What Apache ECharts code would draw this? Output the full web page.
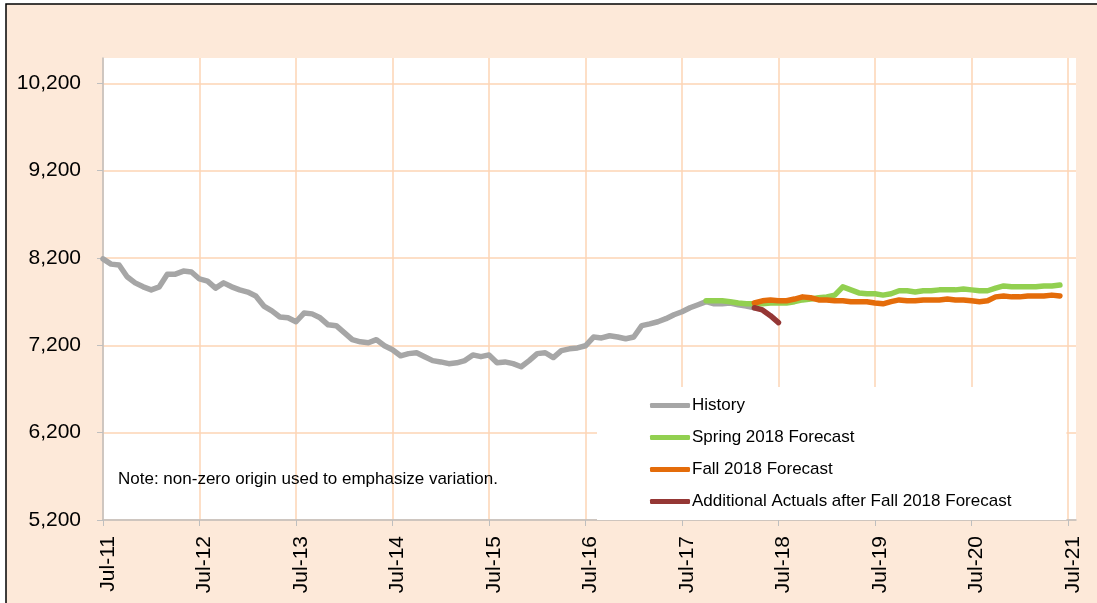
<!DOCTYPE html>
<html lang="en">
<head>
  <meta charset="UTF-8">
  <title>Enrollment forecast</title>
  <style>
    html, body { margin: 0; padding: 0; background: #fff; }
    #echart { width: 1097px; height: 603px; }
  </style>
</head>
<body>
  <div id="echart"></div>
  <script src="https://cdn.jsdelivr.net/npm/echarts@6/dist/echarts.min.js"></script>
  <script>
    // months Jul-11 .. Aug-21 (last one only so the axis runs past Jul-21)
    var monthNames = ['Jan', 'Feb', 'Mar', 'Apr', 'May', 'Jun', 'Jul', 'Aug', 'Sep', 'Oct', 'Nov', 'Dec'];
    var months = [];
    for (var i = 0; i < 122; i++) {
      var m = (6 + i) % 12;
      var y = 11 + Math.floor((6 + i) / 12);
      months.push(monthNames[m] + '-' + y);
    }

    var yTicks = [5200, 6200, 7200, 8200, 9200, 10200];

    // history, from Jul-11
    var historyVals = [
      8190, 8130, 8120, 7985, 7915, 7870, 7835, 7870, 8015, 8015, 8050, 8040,
      7960, 7935, 7855, 7915, 7870, 7835, 7810, 7765, 7650, 7595, 7525, 7515,
      7470, 7570, 7560, 7515, 7435, 7425, 7345, 7265, 7240, 7230, 7265, 7195,
      7150, 7080, 7105, 7115, 7070, 7025, 7010, 6990, 7000, 7025, 7090, 7070,
      7090, 7000, 7010, 6990, 6955, 7025, 7105, 7115, 7060, 7140, 7160, 7170,
      7195, 7295, 7285, 7310, 7295, 7275, 7295, 7425, 7445, 7470, 7505, 7550,
      7585, 7630, 7665, 7700, 7675, 7675, 7685, 7665, 7650, 7630
    ];
    var historyStart = 0;

    // spring 2018 forecast, from Oct-17
    var spring = [
      7710, 7710, 7710, 7700, 7685, 7675, 7675, 7675, 7685, 7685,
      7685, 7700, 7720, 7730, 7745, 7755, 7775, 7870, 7835, 7800,
      7790, 7790, 7775, 7790, 7825, 7825, 7810, 7825, 7825, 7835,
      7835, 7835, 7845, 7835, 7825, 7825, 7855, 7880, 7870, 7870,
      7870, 7870, 7880, 7880, 7890
    ];
    var springStart = 75;

    // fall 2018 forecast, from Apr-18
    var fall = [
      7685, 7710, 7720, 7710, 7710, 7730, 7755, 7745, 7720, 7720,
      7710, 7710, 7700, 7700, 7700, 7685, 7675, 7700, 7720, 7710,
      7710, 7720, 7720, 7720, 7730, 7720, 7720, 7710, 7700, 7710,
      7755, 7765, 7755, 7755, 7765, 7765, 7765, 7775, 7765
    ];
    var fallStart = 81;

    var additional = [7630, 7605, 7540, 7460];
    var additionalStart = 81;

    function pad(arr, start) {
      var out = [];
      for (var i = 0; i < months.length; i++) {
        var j = i - start;
        out.push(j >= 0 && j < arr.length ? arr[j] : null);
      }
      return out;
    }

    function line(name, color, arr, start) {
      return {
        name: name,
        type: 'line',
        symbol: 'none',
        lineStyle: { color: color, width: 5.5, cap: 'round', join: 'round' },
        itemStyle: { color: color },
        data: pad(arr, start)
      };
    }

    var peach = '#FDE9D9';
    var gridColor = '#FCD5B4';
    var axisGray = '#BFBFBF';
    var font = 'Liberation Sans, Arial, sans-serif';

    var option = {
      animation: false,
      backgroundColor: '#fff',
      graphic: [{
        type: 'rect',
        z: -10,
        shape: { x: 6, y: 4, width: 1200, height: 700 },
        style: { fill: peach, stroke: '#000', lineWidth: 1.5 }
      }],
      title: {
        text: 'Note: non-zero origin used to emphasize variation.',
        left: 118,
        top: 471,
        padding: 0,
        textStyle: { fontFamily: font, fontSize: 17, fontWeight: 'normal', color: '#000' }
      },
      legend: {
        orient: 'vertical',
        left: 597,
        top: 387,
        padding: [10, 55, 10, 53],
        backgroundColor: '#fff',
        icon: 'roundRect',
        itemWidth: 40,
        itemHeight: 5,
        itemGap: 15,
        textStyle: { fontFamily: font, fontSize: 17, color: '#000', padding: [0, 0, 0, -3] },
        data: ['History', 'Spring 2018 Forecast', 'Fall 2018 Forecast', 'Additional Actuals after Fall 2018 Forecast']
      },
      grid: {
        left: 103,
        right: 21,
        top: 58,
        bottom: 83,
        show: true,
        backgroundColor: '#fff',
        borderWidth: 0
      },
      xAxis: {
        type: 'category',
        boundaryGap: false,
        data: months,
        axisLine: { lineStyle: { color: axisGray, width: 1.5 } },
        axisTick: { interval: 11, length: 6, lineStyle: { color: axisGray } },
        splitLine: { show: true, interval: 11, lineStyle: { color: gridColor, width: 1.5 } },
        axisLabel: {
          interval: 11,
          rotate: 90,
          margin: 16,
          verticalAlign: 'top',
          lineHeight: 10,
          fontFamily: font,
          fontSize: 21,
          color: '#000'
        }
      },
      yAxis: {
        type: 'value',
        min: 5200,
        max: 10490,
        axisLine: { show: true, lineStyle: { color: axisGray, width: 1.5 } },
        axisTick: { show: true, length: 6, customValues: yTicks, lineStyle: { color: axisGray } },
        splitLine: { show: true, lineStyle: { color: gridColor, width: 1.5 } },
        axisLabel: {
          customValues: yTicks,
          margin: 22,
          fontFamily: font,
          fontSize: 21,
          color: '#000',
          formatter: function (v) {
            return String(v).replace(/\B(?=(\d{3})+(?!\d))/g, ',');
          }
        }
      },
      series: [
        line('History', '#A6A6A6', historyVals, historyStart),
        line('Spring 2018 Forecast', '#92D050', spring, springStart),
        line('Fall 2018 Forecast', '#E46C0A', fall, fallStart),
        line('Additional Actuals after Fall 2018 Forecast', '#953735', additional, additionalStart)
      ]
    };

    var myChart = echarts.init(document.getElementById('echart'));
    myChart.setOption(option);
  </script>
</body>
</html>
